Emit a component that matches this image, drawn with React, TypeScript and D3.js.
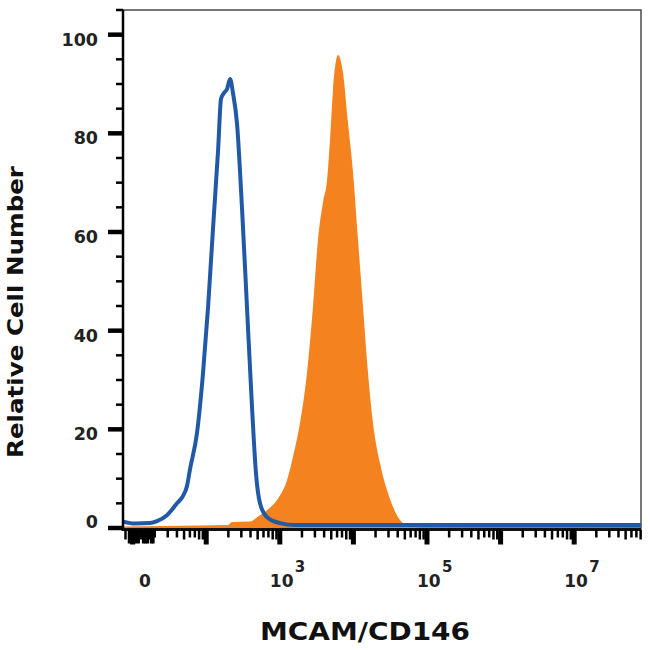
import React from "react";
import * as d3 from "d3";

// ---- data ----
// Isotype control (blue outline): fluorescence intensity and relative cell number
const isotypeIntensity = [7.4, 10.8, 17.2, 21.4, 29.3, 40.1, 48.4, 54.8, 60, 75, 90.5, 106, 124, 145, 159, 175, 192, 211, 232, 262, 306, 358, 419, 475, 538, 670, 1007, 1607, 8.09e7];
const isotypeCount = [1.3, 0.9, 1.0, 1.4, 2.6, 5.0, 6.5, 8.5, 11.8, 19.3, 31.4, 44.8, 61, 76.6, 87, 88.2, 89, 91, 88, 82, 65, 44.8, 24.5, 11, 5, 2.2, 1.0, 0.6, 0.6];

// MCAM/CD146 stained (orange filled)
const stainedIntensity = [7.4, 82, 198, 224, 394, 490, 670, 916, 1253, 1510, 1880, 2340, 2820, 3300, 3860, 4380, 4810, 5280, 6180, 7230, 8450, 9890, 11560, 13500, 15800, 18450, 22950, 28600, 34500, 43000, 53200, 80000, 8.09e7];
const stainedCount = [0.3, 0.5, 0.6, 1.2, 1.3, 2.2, 3.6, 5.7, 9.7, 14.4, 21.3, 31.4, 44.8, 58.4, 66, 70.5, 78.7, 88.8, 95.9, 92.2, 82.1, 72, 58.4, 44.8, 31.4, 21.3, 13.2, 7.7, 4.3, 1.6, 0.6, 0.1, 0];

// axes
const xDomain = [7.4, 8.09e7];
const yDomain = [0, 105];
const yMajorTicks = [0, 20, 40, 60, 80, 100];
const yMinorTicks = [5, 10, 15, 25, 30, 35, 45, 50, 55, 65, 70, 75, 85, 90, 95, 105];
const xDecades = [1e1, 1e2, 1e3, 1e4, 1e5, 1e6, 1e7];
const xMinorMultipliers = [2, 3, 4, 5, 6, 7, 8, 9];
const xZeroRegionTicks = [9, 11, 12, 13, 14, 15, 16, 17, 18, 19];
const xZeroRegionMedium = [13, 17];
const xTickLabelValues = [14.7, 1e3, 1e5, 1e7];
const xTickLabelBase = ["0", "10", "10", "10"];
const xTickLabelExp = ["", "3", "5", "7"];
const yTickLabels = ["0", "20", "40", "60", "80", "100"];

const xTitle = "MCAM/CD146";
const yTitle = "Relative Cell Number";

const BLUE = "#2259a7";
const ORANGE = "#f4821f";
const LABEL_FONT = "'DejaVu Sans', sans-serif";

export default function App() {
  const left = 123, right = 641, top = 10, bottom = 528;
  const x = d3.scaleLog().domain(xDomain).range([left, right]);
  const y = d3.scaleLinear().domain(yDomain).range([bottom, top]);

  const blueData = isotypeIntensity.map((v, i) => [v, isotypeCount[i]] as [number, number]);
  const orangeData = stainedIntensity.map((v, i) => [v, stainedCount[i]] as [number, number]);

  const area = d3
    .area<[number, number]>()
    .x((d) => x(d[0]))
    .y0(y(0))
    .y1((d) => y(d[1]))
    .curve(d3.curveMonotoneX);
  const line = d3
    .line<[number, number]>()
    .x((d) => x(d[0]))
    .y((d) => y(d[1]))
    .curve(d3.curveMonotoneX);

  const minorXTicks: number[] = [];
  [1, 1e1, 1e2, 1e3, 1e4, 1e5, 1e6, 1e7].forEach((dec) => {
    xMinorMultipliers.forEach((m) => {
      const v = dec * m;
      if (v >= xDomain[0] && v <= xDomain[1]) minorXTicks.push(v);
    });
  });
  const mantissa = (t: number) => Math.round(t / Math.pow(10, Math.floor(Math.log10(t) + 1e-9)));

  const axisY = bottom + 1.5;

  return (
    <svg
      width={650}
      height={650}
      style={{ position: "absolute", left: 0, top: 0, background: "#fff" }}
    >
      <rect x={0} y={0} width={650} height={650} fill="#fff" />
      {/* frame */}
      <rect x={left} y={top} width={right - left} height={bottom - top} fill="none" stroke="#555" strokeWidth={1.6} />

      {/* histograms */}
      <path d={area(orangeData) || ""} fill={ORANGE} />
      <path d={line(blueData) || ""} fill="none" stroke={BLUE} strokeWidth={4} strokeLinejoin="round" />

      {/* y axis */}
      <line x1={left} x2={left} y1={top} y2={axisY + 1.5} stroke="#000" strokeWidth={2.5} />
      {yMajorTicks.map((t) => (
        <line key={"ym" + t} x1={left - 15} x2={left} y1={y(t)} y2={y(t)} stroke="#000" strokeWidth={4.5} />
      ))}
      {yMinorTicks.map((t) => (
        <line key={"yn" + t} x1={left - 7} x2={left} y1={y(t)} y2={y(t)} stroke="#000" strokeWidth={2.5} />
      ))}
      {yMajorTicks.map((t, i) => (
        <text
          key={"yl" + t}
          x={98}
          y={Math.min(y(t) + 5, y(0) - 6)}
          textAnchor="end"
          dominantBaseline="central"
          fontFamily={LABEL_FONT}
          fontWeight="bold"
          fontSize={17.5}
          fill="#222"
        >
          {yTickLabels[i]}
        </text>
      ))}

      {/* x axis */}
      <line x1={left} x2={right} y1={axisY} y2={axisY} stroke="#111" strokeWidth={3} />
      {minorXTicks.map((t, i) => (
        <line
          key={"xn" + i}
          x1={x(t)}
          x2={x(t)}
          y1={axisY}
          y2={axisY + ([5, 8, 9].includes(mantissa(t)) ? 10 : 8)}
          stroke="#000"
          strokeWidth={2.5}
        />
      ))}
      {xZeroRegionTicks.map((t) => (
        <line
          key={"xz" + t}
          x1={x(t)}
          x2={x(t)}
          y1={axisY}
          y2={axisY + (xZeroRegionMedium.includes(t) ? 10 : 14)}
          stroke="#000"
          strokeWidth={3}
        />
      ))}
      {xDecades.map((t) => (
        <line key={"xm" + t} x1={x(t)} x2={x(t)} y1={axisY} y2={axisY + 15} stroke="#000" strokeWidth={5} />
      ))}
      {xTickLabelValues.map((t, i) =>
        xTickLabelExp[i] === "" ? (
          <text
            key={"xl" + i}
            x={x(t)}
            y={587}
            textAnchor="middle"
            fontFamily={LABEL_FONT}
            fontWeight="bold"
            fontSize={17}
            fill="#222"
          >
            {xTickLabelBase[i]}
          </text>
        ) : (
          <g key={"xl" + i}>
            <text x={x(t) - 10} y={587} fontFamily={LABEL_FONT} fontWeight="bold" fontSize={17} fill="#222">
              {xTickLabelBase[i]}
            </text>
            <text x={x(t) + 15} y={572} fontFamily={LABEL_FONT} fontWeight="bold" fontSize={15} fill="#222">
              {xTickLabelExp[i]}
            </text>
          </g>
        )
      )}

      {/* titles */}
      <text
        x={365}
        y={640}
        textAnchor="middle"
        fontFamily={LABEL_FONT}
        fontWeight="bold"
        fontSize={25}
        textLength={210}
        lengthAdjust="spacingAndGlyphs"
        fill="#111"
      >
        {xTitle}
      </text>
      <text
        transform="translate(23,312) rotate(-90)"
        textAnchor="middle"
        fontFamily={LABEL_FONT}
        fontWeight="bold"
        fontSize={22}
        textLength={292}
        lengthAdjust="spacingAndGlyphs"
        fill="#111"
      >
        {yTitle}
      </text>
    </svg>
  );
}
